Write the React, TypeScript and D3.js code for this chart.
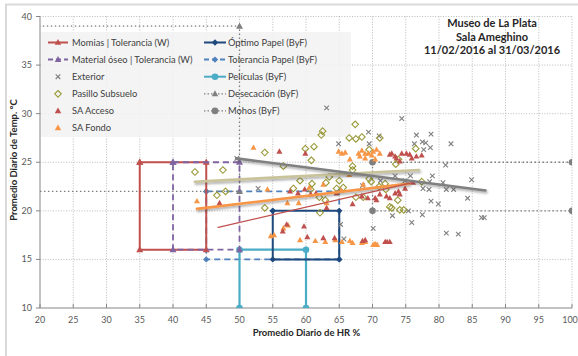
import React from 'react';
import * as d3 from 'd3';

const W = 578;
const H = 356;

// ---------- data ----------
const xTicks = [20, 25, 30, 35, 40, 45, 50, 55, 60, 65, 70, 75, 80, 85, 90, 95, 100];
const yTicks = [10, 15, 20, 25, 30, 35, 40];

const titleLines = ['Museo de La Plata', 'Sala Ameghino', '11/02/2016 al 31/03/2016'];
const xTitle = 'Promedio Diario de HR %';
const yTitle = 'Promedio Diario de Temp. °C';

const legendLeft = ['Momias | Tolerancia (W)', 'Material óseo | Tolerancia (W)', 'Exterior', 'Pasillo Subsuelo', 'SA Acceso', 'SA Fondo'];
const legendRight = ['Óptimo Papel (ByF)', 'Tolerancia Papel (ByF)', 'Películas (ByF)', 'Desecación (ByF)', 'Mohos (ByF)'];

const momias = [[35, 25], [45, 25], [45, 16], [35, 16], [35, 25]];
const materialOseo = [[40, 25], [50, 25], [50, 16], [40, 16], [40, 25]];
const optimoPapel = [[55, 20], [65, 20], [65, 15], [55, 15], [55, 20]];
const toleranciaPapel = [[45, 22], [65, 22], [65, 15], [45, 15], [45, 22]];
const peliculas = [[50, 10], [50, 16], [60, 16], [60, 10]];
const desecacion = [[15, 39], [50, 39], [50, 22], [15, 22]];
const mohos = [[100, 25], [70, 25], [70, 20], [100, 20]];

const exterior = [
  [49.6, 25.4], [52.8, 22.3], [63.1, 30.6], [64.9, 26.9], [69.4, 28.1], [71.0, 27.7], [69.5, 26.9],
  [74.4, 29.5], [76.6, 27.8], [78.8, 27.9], [76.3, 26.9], [77.5, 27.1], [78.0, 27.0], [78.7, 26.5],
  [77.7, 26.3], [81.8, 26.9], [81.0, 24.7], [73.4, 23.6], [75.7, 23.6], [79.0, 23.6], [74.9, 23.1],
  [78.6, 23.0], [80.6, 22.9], [84.9, 23.2], [77.6, 22.3], [78.5, 22.2], [81.1, 22.2], [82.2, 22.2],
  [84.3, 21.3], [78.8, 21.0], [79.9, 20.7], [73.0, 19.5], [75.4, 20.0], [77.5, 19.6], [75.9, 18.8],
  [86.4, 19.3], [86.8, 19.3], [81.1, 17.7], [82.9, 17.6], [65.2, 18.6], [70.1, 18.2], [65.7, 17.1],
  [71.2, 23.1], [68.5, 22.6],
];

const pasillo = [
  [43.3, 24.0], [47.5, 24.2], [53.8, 26.0], [56.6, 24.6], [46.6, 21.6], [47.9, 22.0], [53.8, 20.3],
  [67.4, 28.9], [62.5, 28.2], [62.3, 27.8], [66.5, 27.5], [67.5, 27.4], [68.4, 27.6], [71.1, 27.5],
  [61.2, 26.6], [59.9, 26.4], [60.8, 25.2], [69.5, 26.3], [67.0, 24.6], [67.0, 24.2],
  [59.1, 23.1], [60.9, 22.8], [63.0, 22.9], [63.5, 23.5], [64.6, 22.3], [65.0, 23.1], [65.6, 22.4],
  [69.5, 23.3], [69.8, 23.0], [71.0, 22.5], [71.9, 22.8], [58.1, 22.3], [60.7, 22.2], [62.9, 21.1],
  [67.5, 21.4], [68.6, 21.4], [62.0, 21.4], [62.1, 19.8], [72.0, 22.2], [76.5, 26.4], [73.5, 24.8],
  [73.9, 25.3], [77.4, 23.0], [72.6, 20.4], [74.1, 20.1], [74.7, 20.1], [73.8, 21.1], [72.9, 20.3],
];

const saAcceso = [
  [47.0, 20.8], [56.5, 17.9], [57.1, 18.6], [59.7, 18.4], [60.2, 17.3], [62.6, 17.2], [64.3, 17.2],
  [68.5, 16.9], [68.9, 17.0], [71.9, 16.8], [72.2, 16.8], [72.6, 16.8],
  [57.6, 22.0], [58.8, 21.8], [59.8, 22.2], [60.7, 21.7], [61.5, 21.8], [63.1, 20.3], [64.6, 21.8],
  [67.0, 20.7], [68.4, 21.5], [69.3, 21.3], [70.4, 21.3], [70.6, 21.1], [71.1, 21.7], [72.1, 21.5],
  [72.6, 21.3], [73.4, 21.8], [73.9, 22.0], [74.1, 21.7], [74.9, 22.3], [76.1, 22.9],
  [59.9, 25.9], [72.6, 25.8], [73.4, 25.6], [74.4, 25.9], [75.1, 25.9], [75.6, 25.8], [75.9, 25.4],
  [76.6, 25.6], [77.4, 25.7], [74.1, 25.1], [73.6, 25.4], [72.9, 25.9], [56.0, 26.1],
];

const saFondo = [
  [43.6, 21.0], [52.1, 26.5], [55.2, 17.5], [54.7, 17.4], [56.6, 18.2], [57.3, 18.5], [54.2, 22.2],
  [64.9, 26.1], [65.4, 25.9], [65.9, 26.0], [66.6, 25.3], [67.9, 25.9], [68.4, 26.2], [68.9, 25.9],
  [69.4, 25.9], [69.9, 25.7], [70.1, 26.1], [70.4, 25.3], [70.6, 26.3], [71.1, 25.9], [68.9, 25.4],
  [68.1, 25.6], [59.1, 17.0], [61.4, 16.9], [62.9, 16.8], [64.4, 17.0], [65.4, 16.8], [66.6, 16.9],
  [67.0, 16.7], [68.4, 16.7], [68.9, 16.8], [70.1, 16.5], [70.4, 16.6], [70.7, 16.5],
  [57.2, 20.8], [58.9, 20.8], [63.1, 20.8], [68.6, 22.7], [65.3, 22.1], [62.6, 22.7], [60.5, 22.4],
  [66.5, 23.7],
];

// trend lines (start / end)
const trendExterior = [[49.5, 25.4], [87.0, 22.1]];
const trendPasillo = [[43.3, 23.0], [77.0, 24.2]];
const trendFondo = [[43.6, 20.2], [75.5, 22.8]];
const trendAcceso = [[46.8, 18.3], [76.0, 22.9]];

// ---------- styles ----------
const C = {
  momias: '#c0504d',
  oseo: '#8064a2',
  optimo: '#1f497d',
  tolPapel: '#4f81bd',
  peliculas: '#4bacc6',
  gray: '#7f7f7f',
  pasillo: '#9a9a3a',
  acceso: '#c0504d',
  fondo: '#f79646',
};
const FONT = "Lato, 'Liberation Sans', sans-serif";

type Pt = number[];

function triPath(s: number) {
  const h = s * 0.9;
  return `M0,${-h * 0.6}L${s / 2},${h * 0.4}L${-s / 2},${h * 0.4}Z`;
}
function diaPath(r: number) {
  return `M0,${-r}L${r},0L0,${r}L${-r},0Z`;
}
function crossPath(r: number) {
  return `M${-r},${-r}L${r},${r}M${-r},${r}L${r},${-r}`;
}

function Marker({ kind, color, size }: { kind: string; color: string; size?: number }) {
  if (kind === 'tri') return <path d={triPath(size || 7)} fill={color} />;
  if (kind === 'dia') return <path d={diaPath(size || 3.2)} fill={color} />;
  if (kind === 'odia') return <path d={diaPath(size || 3.3)} fill="none" stroke={color} strokeWidth={1.1} />;
  if (kind === 'circ') return <circle r={size || 3.3} fill={color} />;
  if (kind === 'cross') return <path d={crossPath(size || 2.3)} stroke={color} strokeWidth={1.1} fill="none" />;
  return null;
}

export default function App() {
  const x = d3.scaleLinear().domain([20, 100]).range([40, 572]);
  const y = d3.scaleLinear().domain([10, 40]).range([308, 16.5]);
  const line = d3.line<Pt>().x((d) => x(d[0])).y((d) => y(d[1]));

  const shapes = [
    { data: toleranciaPapel, color: C.tolPapel, dash: '6,4', width: 1.8, marker: 'dia' },
    { data: peliculas, color: C.peliculas, dash: undefined, width: 2.2, marker: 'circ' },
    { data: desecacion, color: C.gray, dash: '1.5,2.5', width: 1.3, marker: 'tri' },
    { data: mohos, color: C.gray, dash: '1.5,2.5', width: 1.3, marker: 'circ' },
    { data: momias, color: C.momias, dash: undefined, width: 2, marker: 'tri' },
    { data: materialOseo, color: C.oseo, dash: '6,4', width: 1.8, marker: 'tri' },
    { data: optimoPapel, color: C.optimo, dash: undefined, width: 2, marker: 'dia' },
  ];

  const trends = [
    { data: trendPasillo, color: '#c9c39a', width: 2.6 },
    { data: trendFondo, color: C.fondo, width: 2.6 },
    { data: trendExterior, color: '#808080', width: 2.6 },
    { data: trendAcceso, color: C.acceso, width: 1.4 },
  ];

  const scatters = [
    { data: exterior, kind: 'cross', color: C.gray },
    { data: pasillo, kind: 'odia', color: C.pasillo },
    { data: saFondo, kind: 'tri', color: C.fondo },
    { data: saAcceso, kind: 'tri', color: C.acceso },
  ];

  const legendLeftStyle = [
    { color: C.momias, dash: undefined, marker: 'tri', line: true },
    { color: C.oseo, dash: '5,3', marker: 'tri', line: true },
    { color: C.gray, dash: undefined, marker: 'cross', line: false },
    { color: C.pasillo, dash: undefined, marker: 'odia', line: false },
    { color: C.acceso, dash: undefined, marker: 'tri', line: false },
    { color: C.fondo, dash: undefined, marker: 'tri', line: false },
  ];
  const legendRightStyle = [
    { color: C.optimo, dash: undefined, marker: 'dia' },
    { color: C.tolPapel, dash: '5,3', marker: 'dia' },
    { color: C.peliculas, dash: undefined, marker: 'circ' },
    { color: C.gray, dash: '1.5,2', marker: 'tri' },
    { color: C.gray, dash: '1.5,2', marker: 'circ' },
  ];

  const rowY = (i: number) => 42.5 + i * 17.1;

  return (
    <svg width={W} height={H} style={{ position: 'absolute', left: 0, top: 0, background: '#fff' }} fontFamily={FONT}>
      <defs>
        <clipPath id="plot">
          <rect x={x(20)} y={y(40)} width={x(100) - x(20)} height={y(10) - y(40)} />
        </clipPath>
        <filter id="shadow" x="-10%" y="-100%" width="120%" height="300%">
          <feDropShadow dx="1" dy="1.8" stdDeviation="1" floodColor="#404040" floodOpacity="0.45" />
        </filter>
      </defs>
      <rect x={0} y={0} width={W} height={H} fill="#fff" />
      <rect x={6} y={4.5} width={W + 20} height={H + 20} fill="none" stroke="#d9d9d9" strokeWidth={2} />

      {/* grid */}
      {xTicks.slice(1).map((t) => (
        <line key={'gx' + t} x1={x(t)} x2={x(t)} y1={y(40)} y2={y(10)} stroke="#b3b3b3" strokeWidth={0.9} strokeDasharray="1,1.6" />
      ))}
      {yTicks.slice(1).map((t) => (
        <line key={'gy' + t} x1={x(20)} x2={x(100)} y1={y(t)} y2={y(t)} stroke="#b3b3b3" strokeWidth={0.9} strokeDasharray="1,1.6" />
      ))}

      {/* axes */}
      <line x1={x(20)} x2={x(20)} y1={y(40)} y2={y(10)} stroke="#868686" strokeWidth={1} />
      <line x1={x(20)} x2={x(100)} y1={y(10)} y2={y(10)} stroke="#868686" strokeWidth={1} />
      {xTicks.map((t) => (
        <line key={'tx' + t} x1={x(t)} x2={x(t)} y1={y(10)} y2={y(10) - 4} stroke="#868686" />
      ))}
      {yTicks.map((t) => (
        <line key={'ty' + t} x1={x(20) - 4} x2={x(20)} y1={y(t)} y2={y(t)} stroke="#868686" />
      ))}
      {xTicks.map((t) => (
        <text key={'lx' + t} x={Math.min(x(t), W - 8)} y={322.5} textAnchor="middle" fontSize={9} fill="#595959">{t}</text>
      ))}
      {yTicks.map((t) => (
        <text key={'ly' + t} x={32} y={y(t) + 3} textAnchor="end" fontSize={9} fill="#595959">{t}</text>
      ))}
      <text x={306.5} y={336} textAnchor="middle" fontSize={9.5} fontWeight="bold" fill="#262626">{xTitle}</text>
      <text transform={`translate(17,160) rotate(-90)`} textAnchor="middle" fontSize={9.5} fontWeight="bold" fill="#262626">{yTitle}</text>

      {/* legend background */}
      <rect x={41} y={32} width={310} height={105} fill="#f2f2f2" fillOpacity={0.85} />

      <g clipPath="url(#plot)">
        {shapes.map((s, i) => (
          <g key={'s' + i}>
            <path d={line(s.data as Pt[]) || ''} fill="none" stroke={s.color} strokeWidth={s.width} strokeDasharray={s.dash} />
            {(s.data as Pt[]).map((d, j) => (
              <g key={j} transform={`translate(${x(d[0])},${y(d[1])})`}>
                <Marker kind={s.marker} color={s.color} />
              </g>
            ))}
          </g>
        ))}
        {scatters.map((s, i) => (
          <g key={'sc' + i}>
            {(s.data as Pt[]).map((d, j) => (
              <g key={j} transform={`translate(${x(d[0])},${y(d[1])})`}>
                <Marker kind={s.kind} color={s.color} size={s.kind === 'tri' ? 6 : undefined} />
              </g>
            ))}
          </g>
        ))}
        {trends.map((t, i) => (
          <path key={'t' + i} d={line(t.data as Pt[]) || ''} fill="none" stroke={t.color} strokeWidth={t.width} filter={t.width > 2 ? 'url(#shadow)' : undefined} strokeLinecap="round" />
        ))}
      </g>

      {/* legend */}
      {legendLeft.map((label, i) => {
        const st = legendLeftStyle[i];
        const yy = rowY(i);
        return (
          <g key={'ll' + i}>
            {st.line && <line x1={48} x2={68} y1={yy} y2={yy} stroke={st.color} strokeWidth={2} strokeDasharray={st.dash} />}
            <g transform={`translate(58,${yy})`}><Marker kind={st.marker} color={st.color} size={st.marker === 'tri' ? 6.5 : undefined} /></g>
            <text x={72} y={yy + 3.3} fontSize={9.3} fill="#404040">{label}</text>
          </g>
        );
      })}
      {legendRight.map((label, i) => {
        const st = legendRightStyle[i];
        const yy = rowY(i);
        return (
          <g key={'lr' + i}>
            <line x1={204} x2={226} y1={yy} y2={yy} stroke={st.color} strokeWidth={st.dash === '1.5,2' ? 1.3 : 2} strokeDasharray={st.dash} />
            <g transform={`translate(215,${yy})`}><Marker kind={st.marker} color={st.color} size={st.marker === 'tri' ? 6.5 : undefined} /></g>
            <text x={228} y={yy + 3.3} fontSize={9.3} fill="#404040">{label}</text>
          </g>
        );
      })}

      {/* title */}
      {titleLines.map((t, i) => (
        <text key={'ti' + i} x={492} y={27 + i * 13.6} textAnchor="middle" fontSize={11} fontWeight="bold" fill="#262626">{t}</text>
      ))}
    </svg>
  );
}
